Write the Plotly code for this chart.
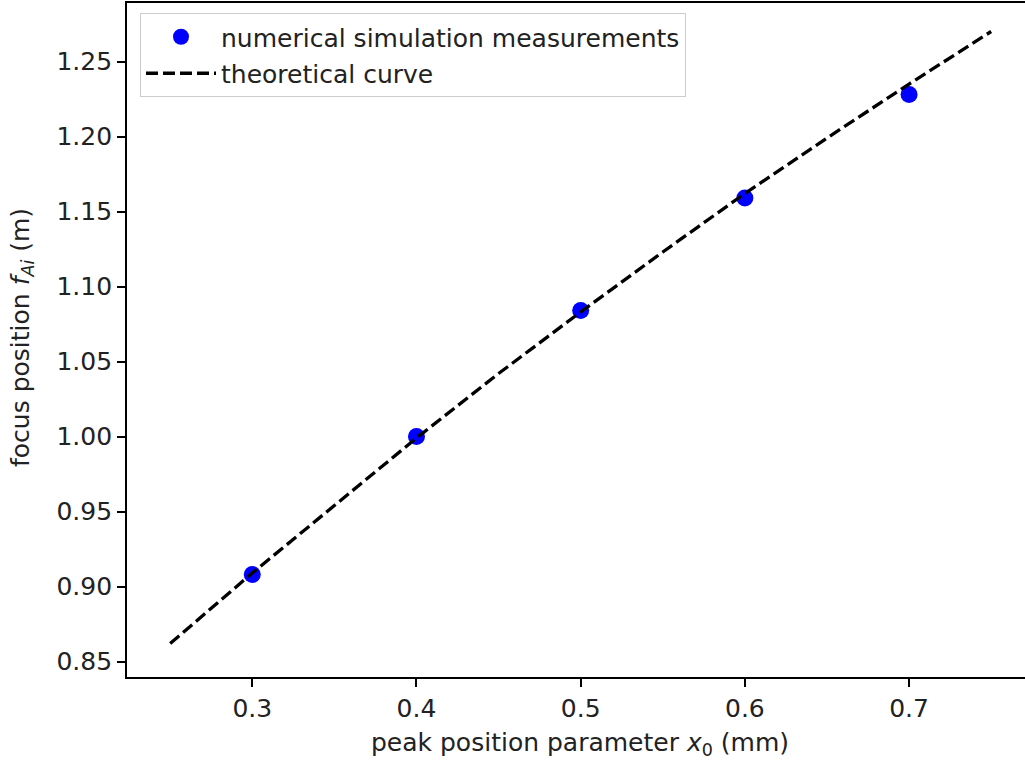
import plotly.graph_objects as go

# Measured focus positions from the numerical simulation
x_measured = [0.3, 0.4, 0.5, 0.6, 0.7]
f_measured = [0.908, 1.000, 1.084, 1.159, 1.228]

# Theoretical focus position curve
x_theory = [0.25, 0.30, 0.35, 0.40, 0.45, 0.50, 0.55, 0.60, 0.65, 0.70, 0.75]
f_theory = [0.862, 0.909, 0.954, 0.999, 1.042, 1.083, 1.123, 1.162, 1.199, 1.235, 1.270]

x_ticks = [0.3, 0.4, 0.5, 0.6, 0.7]
x_tick_labels = ["0.3", "0.4", "0.5", "0.6", "0.7"]
y_ticks = [0.85, 0.90, 0.95, 1.00, 1.05, 1.10, 1.15, 1.20, 1.25]
y_tick_labels = ["0.85", "0.90", "0.95", "1.00", "1.05", "1.10", "1.15", "1.20", "1.25"]

FONT = "DejaVu Sans"
FS = 25
W, H = 1025, 764
L, R, T, B = 127, 0, 3, 87

fig = go.Figure()
fig.add_trace(go.Scatter(
    x=x_measured, y=f_measured, mode="markers",
    name="numerical simulation measurements",
    marker=dict(color="#0000ff", size=17, line=dict(width=0)),
    legendgroup="a",
))
fig.add_trace(go.Scatter(
    x=x_theory, y=f_theory, mode="lines",
    name="theoretical curve",
    line=dict(color="black", width=3.3, dash="12px,5px"),
    legendgroup="b",
))

axis_common = dict(
    showgrid=False, zeroline=False, showline=True, linecolor="black",
    linewidth=1.8, ticks="outside", ticklen=8, tickwidth=1.8, tickcolor="black",
    tickfont=dict(family=FONT, size=FS, color="#222222"),
)
fig.update_xaxes(range=[0.2237, 0.7706], tickvals=x_ticks, ticktext=x_tick_labels,
                 mirror=True, **axis_common)
fig.update_yaxes(range=[0.8397, 1.289], tickvals=y_ticks, ticktext=y_tick_labels,
                 mirror=False, **axis_common)

pw, ph = W - L - R, H - T - B
fig.add_annotation(
    text="peak position parameter <i>x</i><sub>0</sub> (mm)",
    xref="paper", yref="paper", x=(579.5 - L) / pw, y=(H - B - 744) / ph,
    showarrow=False, font=dict(family=FONT, size=FS, color="#222222"),
    xanchor="center", yanchor="middle",
)
fig.add_annotation(
    text="focus position <i>f</i><sub><i>Ai</i></sub> (m)",
    xref="paper", yref="paper", x=(22 - L) / pw, y=(H - B - 338) / ph,
    showarrow=False, textangle=-90, font=dict(family=FONT, size=FS, color="#222222"),
    xanchor="center", yanchor="middle",
)

fig.update_layout(
    width=W, height=H,
    margin=dict(l=L, r=R, t=T, b=B),
    paper_bgcolor="white", plot_bgcolor="white",
    font=dict(family=FONT, size=FS, color="#222222"),
    legend=dict(
        x=(140 - L) / pw, y=1 - (13 - T) / ph, xanchor="left", yanchor="top",
        bgcolor="rgba(255,255,255,0.8)", bordercolor="#cccccc", borderwidth=1,
        font=dict(family=FONT, size=FS, color="#222222"),
        tracegroupgap=1, itemwidth=70,
    ),
)

fig.write_html("out.html")
